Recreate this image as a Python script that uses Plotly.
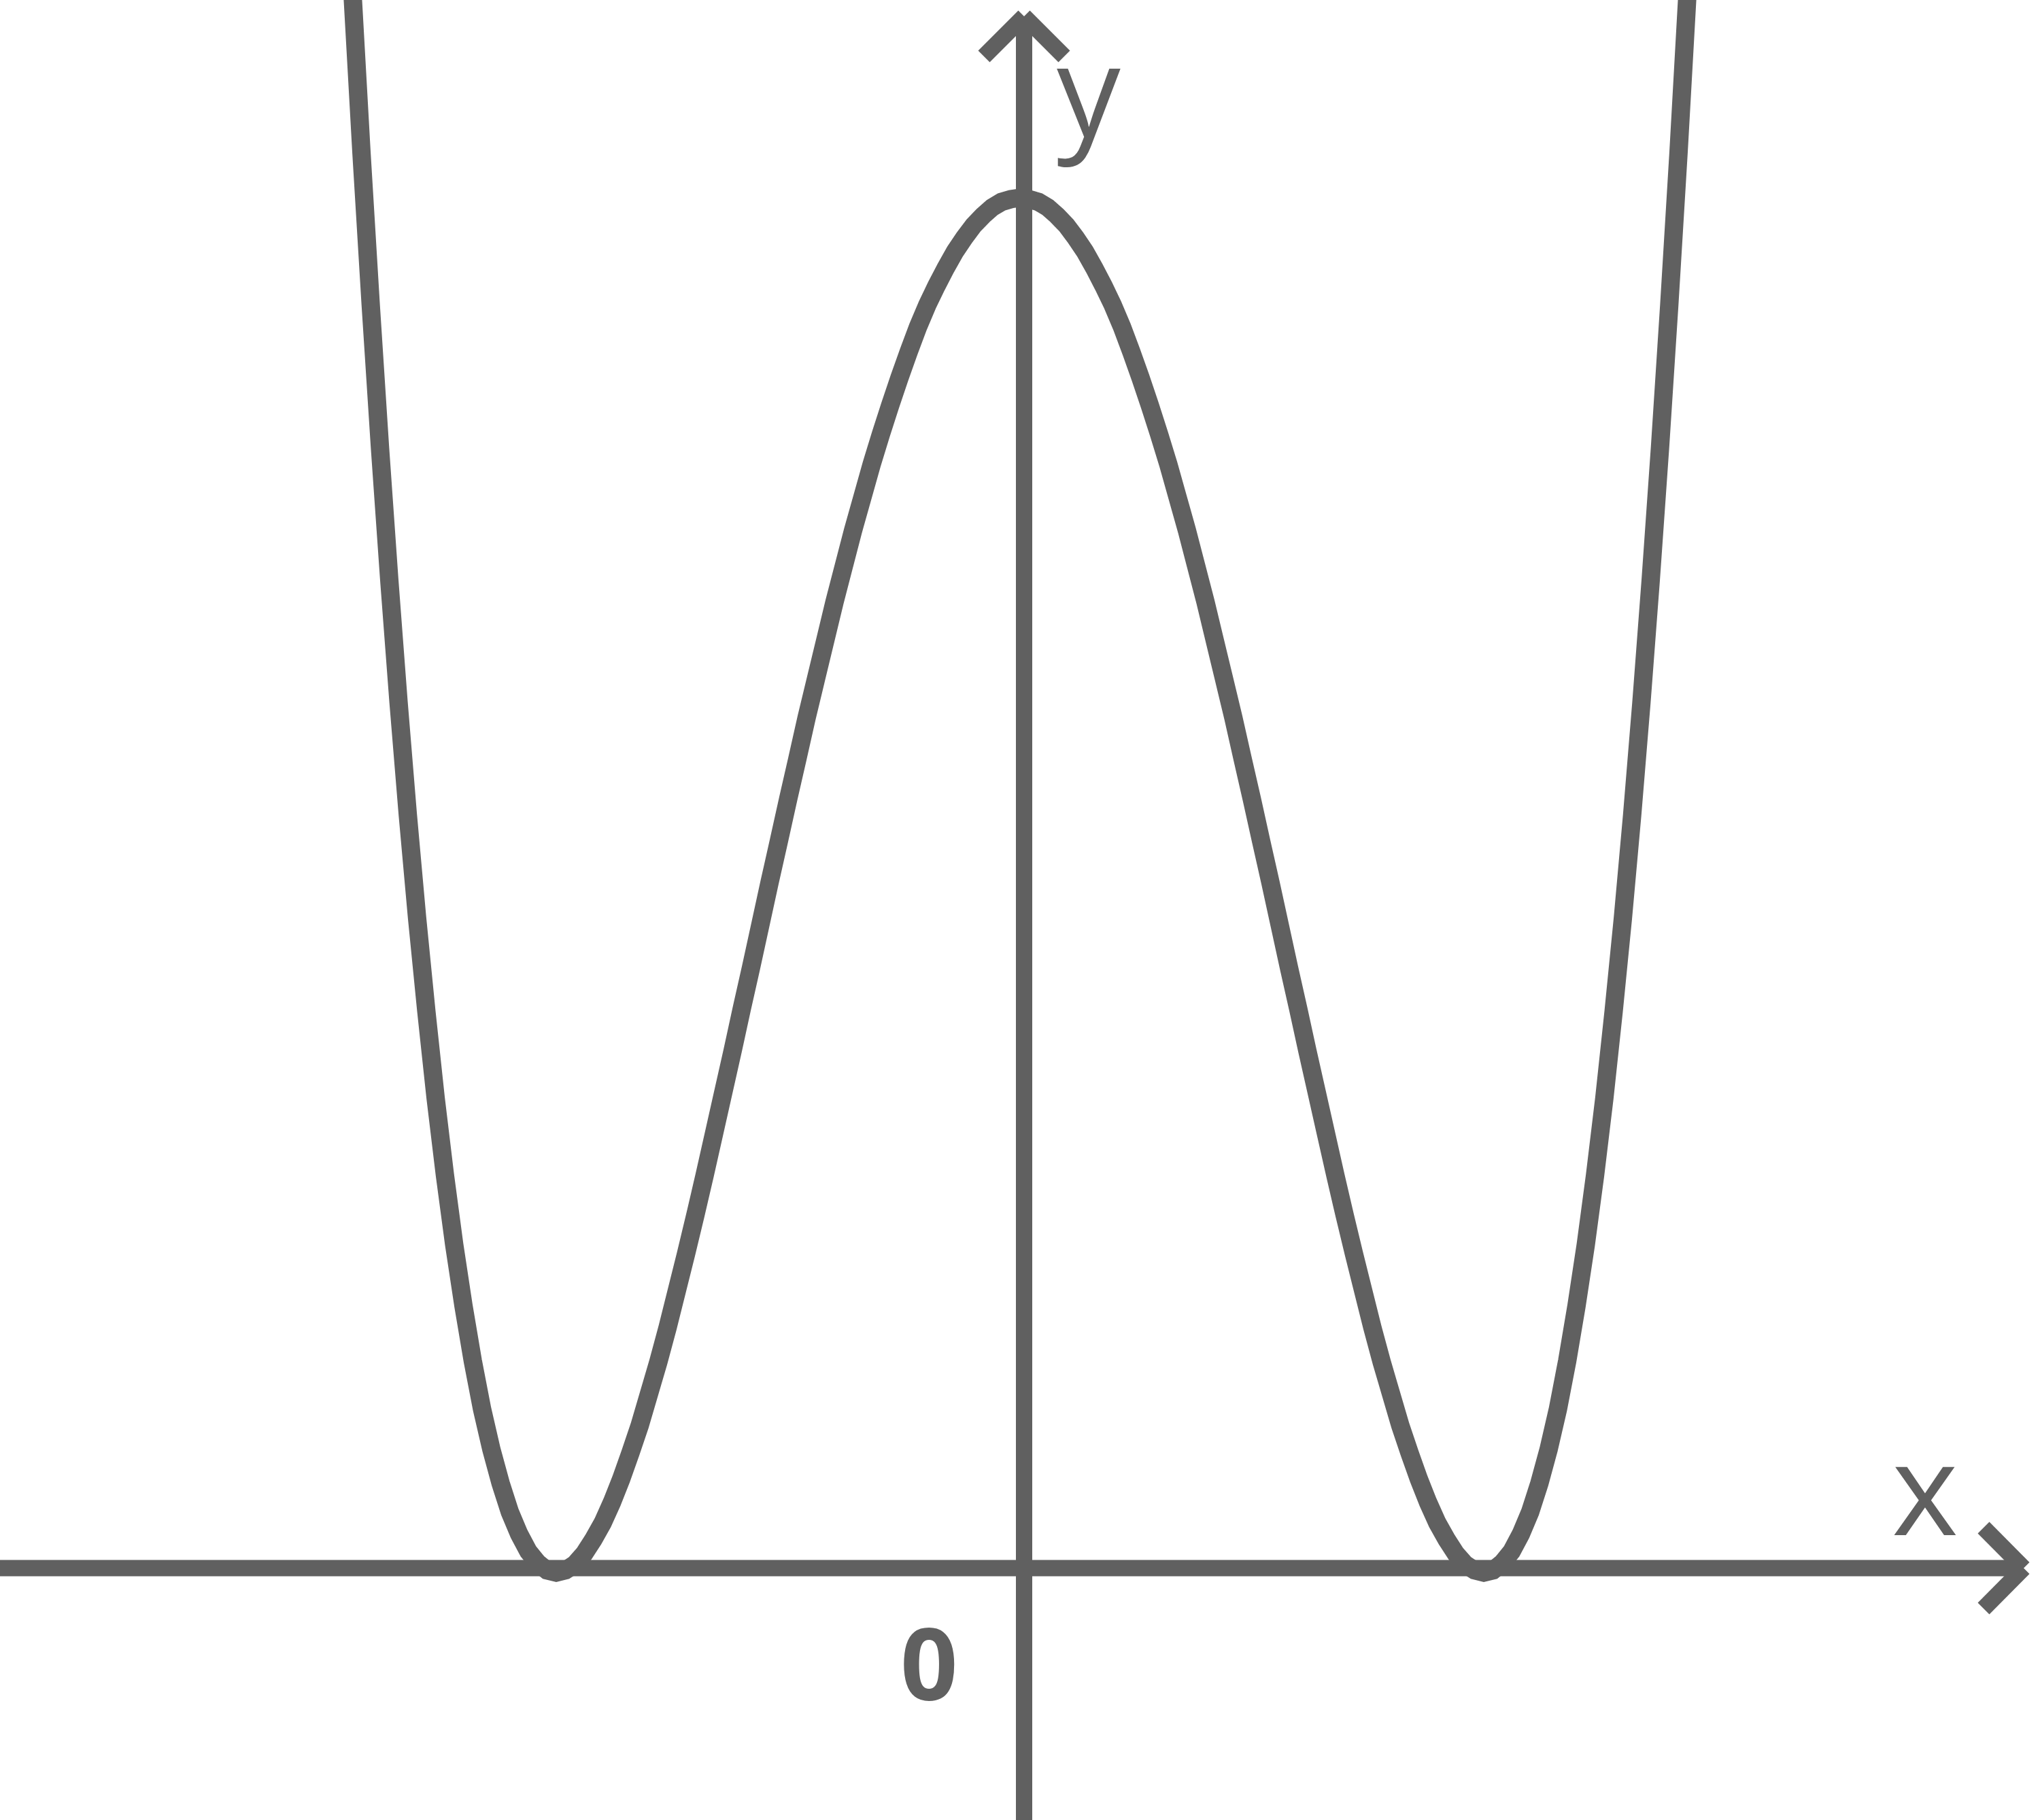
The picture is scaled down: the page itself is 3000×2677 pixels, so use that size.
import plotly.graph_objects as go

# ---- data ----
x_half = [0.00, 0.02, 0.04, 0.06, 0.08, 0.10, 0.12, 0.14, 0.16, 0.18, 0.20, 0.22,
          0.24, 0.26, 0.28, 0.30, 0.32, 0.34, 0.36, 0.38, 0.40, 0.42, 0.44, 0.46,
          0.48, 0.50, 0.52, 0.54, 0.56, 0.58, 0.60, 0.62, 0.64, 0.66, 0.68, 0.70,
          0.72, 0.74, 0.76, 0.78, 0.80, 0.82, 0.84, 0.86, 0.88, 0.90, 0.92, 0.94,
          0.96, 0.98, 1.00, 1.02, 1.04, 1.06, 1.08, 1.10, 1.12, 1.14, 1.16, 1.18,
          1.20, 1.22, 1.24, 1.26, 1.28, 1.30, 1.32, 1.34, 1.36, 1.38, 1.40, 1.42, 1.44]
y_half = [1.000, 0.999, 0.997, 0.993, 0.987, 0.980, 0.971, 0.961, 0.949, 0.936, 0.922, 0.906,
          0.888, 0.869, 0.849, 0.828, 0.806, 0.782, 0.758, 0.732, 0.706, 0.678, 0.650, 0.622,
          0.592, 0.5625, 0.532, 0.502, 0.471, 0.440, 0.410, 0.379, 0.349, 0.319, 0.289, 0.260,
          0.232, 0.205, 0.178, 0.153, 0.130, 0.107, 0.087, 0.068, 0.051, 0.036, 0.024, 0.0136,
          0.006, 0.0016, 0.000, 0.0016, 0.007, 0.0153, 0.028, 0.044, 0.065, 0.0898, 0.119, 0.154,
          0.194, 0.2385, 0.289, 0.345, 0.408, 0.476, 0.551, 0.633, 0.722, 0.818, 0.922, 1.033, 1.153]

x_vals = [-v for v in x_half[:0:-1]] + x_half
y_vals = y_half[:0:-1] + y_half

axis_labels = ["x", "y"]
origin_label = "0"

# ---- geometry helpers (pixel -> data) ----
W, H = 3000, 2677
CX, UX = 1500.0, 682.0     # pixel of x=0, pixels per x unit
CY, UY = 2313.0, 2022.0    # pixel of y=0, pixels per y unit


def dx(px):
    return (px - CX) / UX


def dy(py):
    return (CY - py) / UY


COL = "#606060"

fig = go.Figure()
fig.add_trace(go.Scatter(x=x_vals, y=y_vals, mode="lines",
                         line=dict(color=COL, width=27, simplify=False),
                         hoverinfo="skip", showlegend=False))

shapes = []
# x axis
shapes.append(dict(type="line", xref="x", yref="y", x0=dx(-10), x1=dx(2976),
                   y0=dy(2306.5), y1=dy(2306.5), line=dict(color=COL, width=24)))
# x arrow head
shapes.append(dict(type="line", xref="x", yref="y", x0=dx(2917), y0=dy(2247),
                   x1=dx(2976), y1=dy(2306.5), line=dict(color=COL, width=24)))
shapes.append(dict(type="line", xref="x", yref="y", x0=dx(2917), y0=dy(2366),
                   x1=dx(2976), y1=dy(2306.5), line=dict(color=COL, width=24)))
# y axis
shapes.append(dict(type="line", xref="x", yref="y", x0=dx(1506), x1=dx(1506),
                   y0=dy(2700), y1=dy(24), line=dict(color=COL, width=24)))
# y arrow head
shapes.append(dict(type="line", xref="x", yref="y", x0=dx(1447), y0=dy(83),
                   x1=dx(1506), y1=dy(24), line=dict(color=COL, width=24)))
shapes.append(dict(type="line", xref="x", yref="y", x0=dx(1565), y0=dy(83),
                   x1=dx(1506), y1=dy(24), line=dict(color=COL, width=24)))

annotations = [
    dict(text=axis_labels[0], x=dx(2831), y=dy(2185), xref="x", yref="y",
         showarrow=False, xanchor="center", yanchor="middle",
         font=dict(family="Open Sans", size=187, color=COL)),
    dict(text=axis_labels[1], x=dx(1601), y=dy(128), xref="x", yref="y",
         showarrow=False, xanchor="center", yanchor="middle",
         font=dict(family="Open Sans", size=187, color=COL)),
    dict(text="<b>" + origin_label + "</b>", x=dx(1366), y=dy(2443), xref="x", yref="y",
         showarrow=False, xanchor="center", yanchor="middle",
         font=dict(family="Open Sans", size=148, color=COL)),
]

fig.update_layout(
    width=W, height=H, autosize=False,
    margin=dict(l=0, r=0, t=0, b=0, pad=0),
    paper_bgcolor="white", plot_bgcolor="white",
    xaxis=dict(range=[dx(0), dx(W)], visible=False, fixedrange=True),
    yaxis=dict(range=[dy(H), dy(0)], visible=False, fixedrange=True),
    shapes=shapes, annotations=annotations, showlegend=False,
)

fig.write_html("out.html", config={"displayModeBar": False},
               post_script="document.body.style.margin='0';document.body.style.overflow='hidden';")
